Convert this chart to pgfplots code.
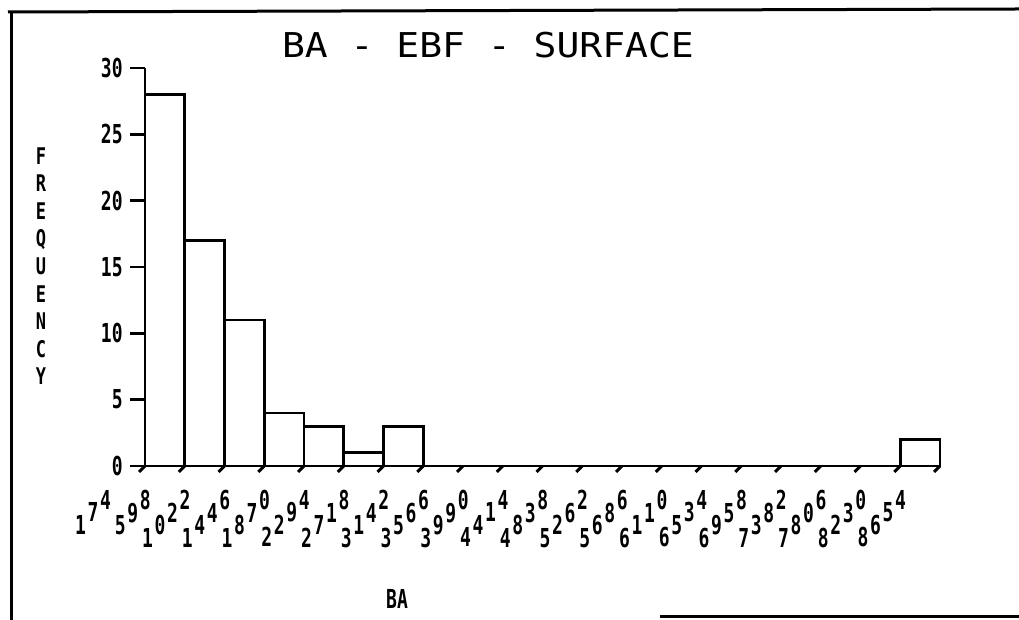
\documentclass[border=0pt]{standalone}
\usepackage{pgfplots}
\pgfplotsset{compat=1.18}
\usepackage{fontspec}
\setmainfont{DejaVu Sans Mono}
\usepackage{graphicx}

\newcommand\dig[1]{\scalebox{1}[1.45]{\fontsize{9}{9}\selectfont\bfseries #1}}
\newcommand\dc[1]{\hbox to 6.25pt{\dig{#1}\hss}}
\newcommand\stIII[3]{\hbox{\dc{#1}\raise6.25pt\dc{#2}\raise12.5pt\dc{#3}}}
\newcommand\stIV[4]{\hbox{\dc{#1}\raise6.25pt\dc{#2}\raise12.5pt\dc{#3}\raise18.75pt\dc{#4}}}

\begin{document}
\begin{tikzpicture}
\path[use as bounding box] (0,0) rectangle (509.5pt,310pt);
% page frame
\draw[line width=1.5pt] (4pt,304pt) -- (509.5pt,305.5pt);
\draw[line width=1.5pt] (5.5pt,304.5pt) -- (5.5pt,0pt);
\draw[line width=1.2pt] (330pt,1.8pt) -- (509.5pt,1.8pt);
\begin{axis}[
  at={(72.5pt,77pt)}, anchor=south west,
  scale only axis, width=397.5pt, height=199pt,
  xmin=174, xmax=8654, ymin=0, ymax=30,
  axis lines=left, axis line style={-, line width=1.3pt},
  tick align=outside, major tick length=7.5pt,
  tick style={line width=1.3pt, black},
  ytick={0,5,...,30},
  yticklabels={\dig{0},\dig{5},\dig{10},\dig{15},\dig{20},\dig{25},\dig{30}},
  y tick label style={inner sep=0pt, xshift=-3.5pt},
  xtick={174,598,...,8654},
  xtick style={draw=none},
  xticklabels={\stIII174,\stIII598,\stIV1022,\stIV1446,\stIV1870,\stIV2294,\stIV2718,\stIV3142,\stIV3566,\stIV3990,\stIV4414,\stIV4838,\stIV5262,\stIV5686,\stIV6110,\stIV6534,\stIV6958,\stIV7382,\stIV7806,\stIV8230,\stIV8654},
  x tick label style={anchor=north east, inner sep=0pt, xshift=-16pt, yshift=-4.5pt},
  clip=false,
]
\addplot[ybar interval, fill=white, draw=black, line width=1.4pt] coordinates {
  (174,28) (598,17) (1022,11) (1446,4) (1870,3) (2294,1) (2718,3)
  (3142,0) (3566,0) (3990,0) (4414,0) (4838,0) (5262,0) (5686,0)
  (6110,0) (6534,0) (6958,0) (7382,0) (7806,0) (8230,2) (8654,2)
};
\pgfplotsinvokeforeach{174,598,...,8654}{\draw[line width=1.5pt] (axis cs:#1,0) -- ++(-3pt,-3pt);}
\end{axis}
\node at (244pt,287.5pt) {\scalebox{1}[0.9]{\fontsize{19}{19}\selectfont BA - EBF - SURFACE}};
\node[inner sep=0pt] at (20.5pt,175.5pt) {\scalebox{1}[1.35]{\fontsize{8.5}{10.2}\selectfont\bfseries\begin{tabular}{@{}c@{}}F\\R\\E\\Q\\U\\E\\N\\C\\Y\end{tabular}}};
\node at (198.5pt,10.5pt) {\dig{BA}};
\end{tikzpicture}
\end{document}
